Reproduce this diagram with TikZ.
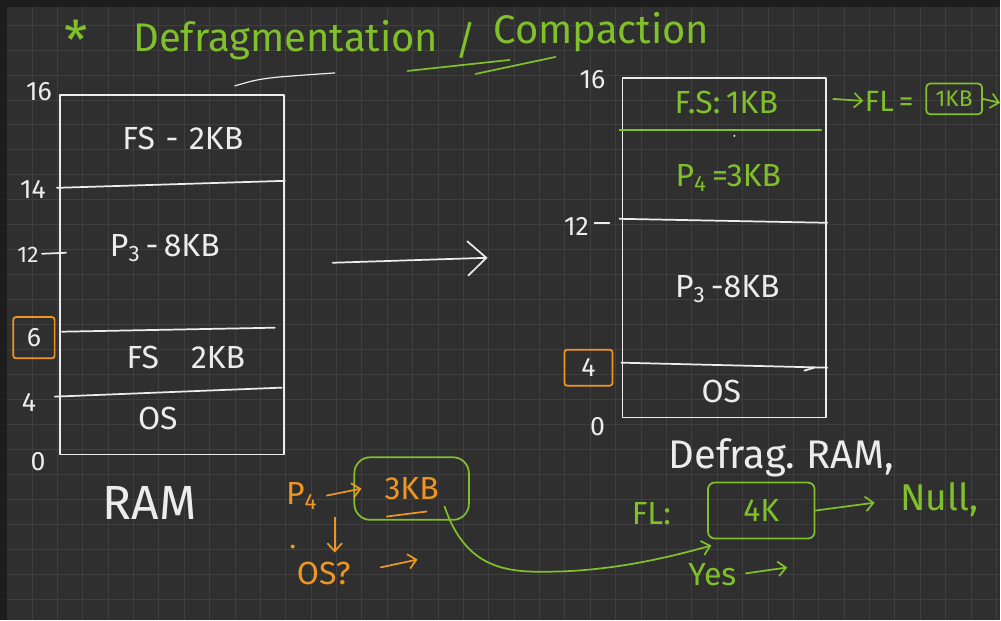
\documentclass[tikz,border=0pt]{standalone}
\usepackage{xcolor}
\usepackage{fontspec}
\setmainfont{Fira Sans}
\usepackage{tikz}
\usetikzlibrary{calc}
\usetikzlibrary{positioning}
\usetikzlibrary{arrows.meta}
\definecolor{boardBg}{RGB}{47,47,47}
\definecolor{boardGrid}{RGB}{63,63,63}
\definecolor{boardEdge}{RGB}{29,29,29}
\definecolor{chalkWhite}{RGB}{236,236,236}
\definecolor{penGreen}{RGB}{128,192,42}
\definecolor{penOrange}{RGB}{238,150,34}

\begin{document}
\begin{tikzpicture}[x=0.75pt, y=-0.75pt,
		hand/.style={inner sep=1pt, font=\fontsize{24}{24}\selectfont},
		wtxt/.style={hand, text=chalkWhite},
		gtxt/.style={hand, text=penGreen},
		otxt/.style={hand, text=penOrange},
		num/.style={wtxt, font=\fontsize{20}{20}\selectfont},
		ink/.style={line width=1.3pt, line cap=round, line join=round},
		wink/.style={ink, draw=chalkWhite},
		gink/.style={ink, draw=penGreen},
		oink/.style={ink, draw=penOrange},
		bigbarb/.style={-{Straight Barb[length=14pt,width=26pt]}},
		barb/.style={-{Straight Barb[length=6pt,width=11pt]}}]
		\tikzset{every node/.append style={font=\fontsize{24}{24}\selectfont}}
		% board
		\fill[boardEdge] (0,0) rectangle (1001,621);
		\fill[boardBg] (7,7) rectangle (1001,621);
		\foreach \x in {32,57.4,...,1001} \draw[boardGrid, line width=0.6pt] (\x,7) -- (\x,621);
		\foreach \y in {25,50,...,620} \draw[boardGrid, line width=0.6pt] (7,\y) -- (1001,\y);
		
		% title
		\node[gtxt, font=\fontsize{40}{40}\selectfont] (star) at (76,40) {*};
		\node[gtxt, font=\fontsize{30}{30}\selectfont] (defrag) at (286,40) {Defragmentation};
		\node[gtxt, font=\fontsize{30}{30}\selectfont] (slash) at (466,40) {/};
		\node[gtxt, font=\fontsize{30}{30}\selectfont] (compact) at (602,32) {Compaction};
		\draw[gink] (408,71) -- (510,60);
		\draw[gink] (476,74) -- (556,57);
		\draw[wink, line width=0.9pt] (235,86) .. controls (262,78) .. (335,73);
		
		% RAM before
		\coordinate (ramNW) at (60,95);
		\coordinate (ramSE) at (284,455);
		\draw[wink] (ramNW) rectangle (ramSE);
		\draw[wink] (57,188) -- (285,181);
		\draw[wink] (42,254) -- (66,253);
		\draw[wink] (62,332) -- (275,328);
		\draw[wink] (55,397) -- (282,388);
		\node[num] (l16) at (39,92) {16};
		\node[num] (l14) at (33,190) {14};
		\node[num, font=\fontsize{17}{17}\selectfont] (l12) at (28,255) {12};
		\node[num, draw=penOrange, line width=1.3pt, rounded corners=2pt,
			minimum width=31pt, minimum height=31pt] (l6) at (34,338) {6};
		\node[num] (l4) at (29,403) {4};
		\node[num] (l0) at (38,462) {0};
		\node[wtxt] (fsTop) at (183,139) {FS\,\,-\,\,2KB};
		\node[wtxt] (pThree) at (165,248) {P\textsubscript{3}\,-\,8KB};
		\node[wtxt] (fsMid) at (186,358) {FS\quad 2KB};
		\node[wtxt] (osL) at (158,419) {OS};
		\node[wtxt, font=\fontsize{36}{36}\selectfont] (ramL) at (150,503) {RAM};
		
		\coordinate (shiftA) at (333,263);
		\coordinate (shiftB) at (488,258);
		\draw[wink, bigbarb] (shiftA) -- (shiftB);
		
		% RAM after
		\coordinate (defNW) at (623,78);
		\coordinate (defSE) at (827,418);
		\draw[wink] (defNW) rectangle (defSE);
		\draw[gink] (620,130) -- (822,130);
		\fill[chalkWhite] (735,136) circle (1.2);
		\draw[wink] (620,219) -- (828,223);
		\draw[wink] (595,223) -- (610,223);
		\draw[wink] (622,363) -- (828,368);
		\draw[wink] (805,371) -- (815,368);
		\node[num] (r16) at (593,80) {16};
		\node[num] (r12) at (577,227) {12};
		\node[num, draw=penOrange, line width=1.3pt, rounded corners=2pt,
			minimum width=36pt, minimum height=27pt] (r4) at (589,368) {4};
		\node[num] (r0) at (598,427) {0};
		\node[gtxt] (fsOne) at (727,103) {F.S:\,1KB};
		\node[gtxt] (pFour) at (729,178) {P\textsubscript{4}\,=3KB};
		\node[wtxt] (pThreeR) at (728,289) {P\textsubscript{3}\,-8KB};
		\node[wtxt] (osR) at (722,392) {OS};
		\node[wtxt, font=\fontsize{30}{30}\selectfont] (defRam) at (782,458) {Defrag.\ RAM,};
		
		\coordinate (flStart) at (834,99);
		\node[gtxt, font=\fontsize{22}{22}\selectfont] (flTop) at (890,101) {FL\,=};
		\node[gtxt, font=\fontsize{17}{17}\selectfont, draw=penGreen, line width=1.3pt,
			rounded corners=3pt, minimum width=42pt, minimum height=23pt] (oneKB) at (955,99) {1KB};
		\coordinate (edgeR) at (1001,103);
		\draw[gink, barb] (flStart) -- (flTop.west);
		\draw[gink, barb] (oneKB.east) -- (edgeR);
		
		% free list check
		\node[otxt] (pFourO) at (302,496) {P\textsubscript{4}};
		\node[otxt, draw=penGreen, line width=1.3pt, rounded corners=12pt,
			minimum width=86pt, minimum height=47pt] (threeKB) at (412,489) {3KB};
		\draw[oink, barb] ([xshift=6pt]pFourO.east) -- ([xshift=6pt]threeKB.west);
		\draw[oink] (387,517) -- (427,512);
		\coordinate (dnTop) at (335,518);
		\coordinate (dnEnd) at (335,553);
		\draw[oink, barb] (dnTop) -- (dnEnd);
		\fill[penOrange] (293,547) circle (2);
		\node[otxt] (osQ) at (324,574) {OS?};
		\coordinate (osQend) at (418,560);
		\draw[oink, barb, shorten <=22pt] (osQ.east) -- (osQend);
		
		\node[gtxt] (flLow) at (652,514) {FL:};
		\node[gtxt, draw=penGreen, line width=1.3pt, rounded corners=5pt,
			minimum width=80pt, minimum height=42pt] (fourK) at (762,511) {4K};
		\node[gtxt, font=\fontsize{28}{28}\selectfont] (nullTxt) at (940,500) {Null,};
		\draw[gink, barb, shorten >=18pt] (fourK.east) -- (nullTxt.west);
		\node[gtxt] (yes) at (713,575) {Yes};
		\coordinate (yesEnd) at (788,568);
		\draw[gink, barb, shorten <=6pt] (yes.east) -- (yesEnd);
		\coordinate (curveStart) at (445,507);
		\coordinate (curveEnd) at (712,546);
		\draw[gink, barb] (curveStart) .. controls (468,575) and (515,573) .. (560,572)
			.. controls (622,570) and (676,556) .. (curveEnd);
		
\end{tikzpicture}
\end{document}
